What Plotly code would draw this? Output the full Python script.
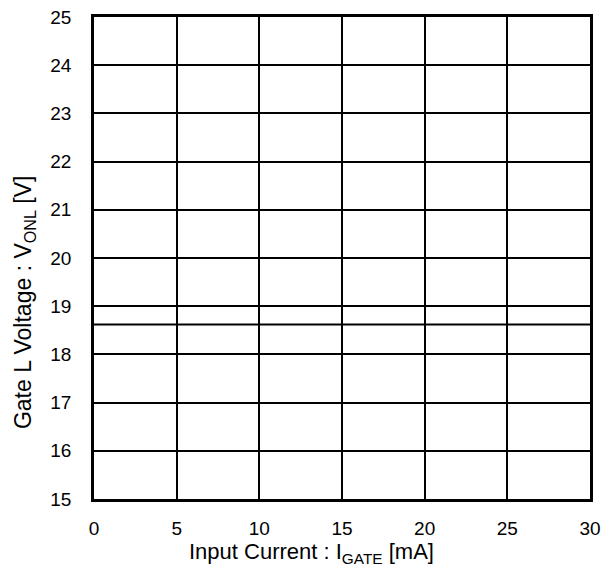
import plotly.graph_objects as go

current_ma = [0, 5, 10, 15, 20, 25, 30]
v_onl = [18.62, 18.62, 18.62, 18.62, 18.62, 18.62, 18.62]

x_ticks = [0, 5, 10, 15, 20, 25, 30]
y_ticks = [15, 16, 17, 18, 19, 20, 21, 22, 23, 24, 25]

x_title = "Input Current : I<sub>GATE</sub> [mA]"
y_title = "Gate L Voltage : V<sub>ONL</sub> [V]"

fig = go.Figure()
fig.add_trace(go.Scatter(x=current_ma, y=v_onl, mode="lines",
                         line=dict(color="black", width=2.2), showlegend=False))

font = dict(family="Liberation Sans, Arial, sans-serif", size=19, color="black")
fig.update_layout(
    width=598, height=558,
    margin=dict(l=86, r=16, t=9, b=67),
    paper_bgcolor="white", plot_bgcolor="white",
    font=font,
    xaxis=dict(range=[0, 30], tickvals=x_ticks, ticks="", showgrid=True,
               gridcolor="black", gridwidth=2, showline=True, linecolor="black",
               linewidth=2.5, mirror=True, zeroline=False, ticklabelstandoff=10,
               automargin=False, ticklabeloverflow="allow"),
    yaxis=dict(range=[15, 25], tickvals=y_ticks, ticks="", showgrid=True,
               gridcolor="black", gridwidth=2, showline=True, linecolor="black",
               linewidth=2.5, mirror=True, zeroline=False, ticklabelstandoff=16,
               automargin=False, ticklabeloverflow="allow"),
    annotations=[
        dict(text=x_title, xref="paper", yref="paper", x=0.4385, y=-0.112,
             xanchor="center", yanchor="middle", showarrow=False,
             font=dict(size=22)),
        dict(text=y_title, xref="paper", yref="paper", x=-0.141, y=0.4066,
             xanchor="center", yanchor="middle", showarrow=False, textangle=-90,
             font=dict(size=23)),
    ],
)
fig.write_html("out.html")
